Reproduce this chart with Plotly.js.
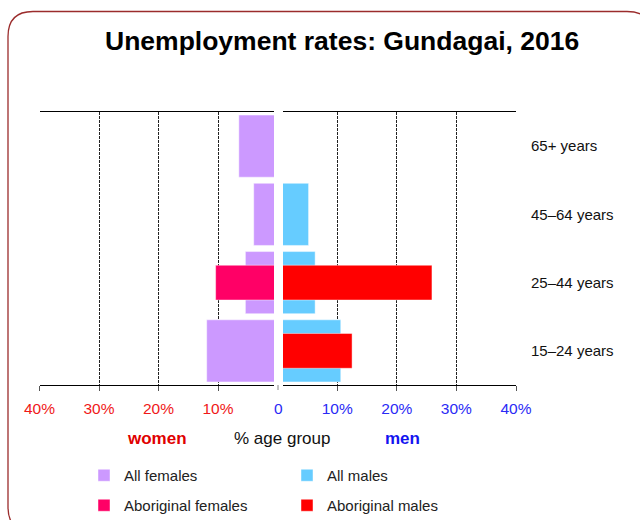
<!DOCTYPE html>
<html>
<head>
<meta charset="utf-8">
<script src="https://cdn.plot.ly/plotly-3.0.1.min.js"></script>
<style>
  html, body { margin: 0; padding: 0; background: #fff; }
  #chart { width: 640px; height: 520px; }
</style>
</head>
<body>
<div id="chart"></div>
<script>
// ---- data ----
const categories = ['15–24 years', '25–44 years', '45–64 years', '65+ years'];
const allFemales = [11.9, 5.4, 4.0, 6.5];
const aboriginalFemales = [null, 10.4, null, null];
const allMales = [10.6, 6.3, 5.2, 0];
const aboriginalMales = [12.5, 25.9, null, null];
const leftTickVals = [40, 30, 20, 10];
const leftTickText = ['40%', '30%', '20%', '10%'];
const rightTickVals = [10, 20, 30, 40];
const rightTickText = ['10%', '20%', '30%', '40%'];
const seriesNames = ['All females', 'Aboriginal females', 'All males', 'Aboriginal males'];

// ---- helpers (pixel -> paper) ----
const W = 640, H = 520;
const px = v => v / W;
const py = v => 1 - v / H;

const FONT = '"Liberation Sans", Arial, Helvetica, sans-serif';
const RED = '#F01818';
const BLUE = '#2A2AF5';
const C_ALLF = '#CC99FF', C_ABF = '#FF0066', C_ALLM = '#66CCFF', C_ABM = '#FF0000';
const EDGE = {color: 'rgba(255,255,255,0.45)', width: 1};

const traces = [
  {type: 'bar', orientation: 'h', name: seriesNames[0], y: categories, x: allFemales,
   xaxis: 'x', yaxis: 'y', width: 0.91, marker: {color: C_ALLF, line: EDGE},
   legend: 'legend', legendgroup: 'a'},
  {type: 'bar', orientation: 'h', name: seriesNames[1], y: categories, x: aboriginalFemales,
   xaxis: 'x', yaxis: 'y', width: 0.51, marker: {color: C_ABF, line: EDGE},
   legend: 'legend', legendgroup: 'b'},
  {type: 'bar', orientation: 'h', name: seriesNames[2], y: categories, x: allMales,
   xaxis: 'x2', yaxis: 'y', width: 0.91, marker: {color: C_ALLM, line: EDGE},
   legend: 'legend2', legendgroup: 'c'},
  {type: 'bar', orientation: 'h', name: seriesNames[3], y: categories, x: aboriginalMales,
   xaxis: 'x2', yaxis: 'y', width: 0.51, marker: {color: C_ABM, line: EDGE},
   legend: 'legend2', legendgroup: 'd'}
];

const commonX = {
  showline: true, linecolor: '#000', linewidth: 1.2, mirror: true,
  ticks: 'outside', ticklen: 5, tickcolor: '#555', tickwidth: 1,
  showgrid: true, gridcolor: '#222', gridwidth: 1, griddash: '3px,1px',
  zeroline: false, tickmode: 'array', fixedrange: true, ticklabelstandoff: 4
};

const legendCommon = {
  orientation: 'v', xanchor: 'left', yanchor: 'top',
  font: {family: FONT, size: 15, color: '#222'},
  bgcolor: 'rgba(0,0,0,0)', traceorder: 'grouped', tracegroupgap: 7.5,
  itemclick: false, itemdoubleclick: false
};

const r = 25; // border corner radius
const bx0 = 8, by0 = 11.5, bx1 = 652, by1 = 532;
const borderPath =
  `M ${px(bx0)},${py(by0 + r)} Q ${px(bx0)},${py(by0)} ${px(bx0 + r)},${py(by0)} ` +
  `L ${px(bx1 - r)},${py(by0)} Q ${px(bx1)},${py(by0)} ${px(bx1)},${py(by0 + r)} ` +
  `L ${px(bx1)},${py(by1 - r)} Q ${px(bx1)},${py(by1)} ${px(bx1 - r)},${py(by1)} ` +
  `L ${px(bx0 + r)},${py(by1)} Q ${px(bx0)},${py(by1)} ${px(bx0)},${py(by1 - r)} Z`;

const layout = {
  width: W, height: H,
  margin: {l: 0, r: 0, t: 0, b: 0, autoexpand: false},
  paper_bgcolor: '#fff', plot_bgcolor: '#fff',
  barmode: 'overlay',
  font: {family: FONT, color: '#111'},
  title: {
    text: '<b>Unemployment rates: Gundagai, 2016</b>',
    font: {family: FONT, size: 26.5, color: '#000'},
    x: px(105), xanchor: 'left', y: py(41), yanchor: 'middle', yref: 'container'
  },
  xaxis: Object.assign({}, commonX, {
    domain: [px(39.5), px(274)], range: [40, 0.59], anchor: 'y',
    tickvals: leftTickVals, ticktext: leftTickText,
    tickfont: {family: FONT, size: 15.5, color: RED}
  }),
  xaxis2: Object.assign({}, commonX, {
    domain: [px(283), px(516)], range: [0.91, 40], anchor: 'y',
    tickvals: rightTickVals, ticktext: rightTickText,
    tickfont: {family: FONT, size: 15.5, color: BLUE}
  }),
  yaxis: {
    domain: [py(385), py(112)], anchor: 'x2', side: 'right',
    type: 'category', categoryorder: 'array', categoryarray: categories,
    range: [-0.5, 3.5], showline: false, showgrid: false, zeroline: false,
    ticks: '', ticklabelstandoff: 14, fixedrange: true,
    tickfont: {family: FONT, size: 15, color: '#111'}
  },
  showlegend: true,
  legend: Object.assign({}, legendCommon, {x: px(84), y: py(459)}),
  legend2: Object.assign({}, legendCommon, {x: px(287), y: py(459)}),
  annotations: [
    {text: '0', xref: 'paper', yref: 'paper', x: px(278), y: py(408),
     xanchor: 'center', yanchor: 'middle', showarrow: false,
     font: {family: FONT, size: 15.5, color: BLUE}},
    {text: '<b>women</b>', xref: 'paper', yref: 'paper', x: px(157), y: py(438),
     xanchor: 'center', yanchor: 'middle', showarrow: false,
     font: {family: FONT, size: 17, color: '#E00000'}},
    {text: '% age group', xref: 'paper', yref: 'paper', x: px(281.5), y: py(438),
     xanchor: 'center', yanchor: 'middle', showarrow: false,
     font: {family: FONT, size: 17, color: '#111'}},
    {text: '<b>men</b>', xref: 'paper', yref: 'paper', x: px(402), y: py(438),
     xanchor: 'center', yanchor: 'middle', showarrow: false,
     font: {family: FONT, size: 17, color: '#1414F0'}}
  ],
  shapes: [
    {type: 'line', xref: 'paper', yref: 'paper', x0: px(278), x1: px(278),
     y0: py(385), y1: py(390), line: {color: '#888', width: 1}},
    {type: 'path', xref: 'paper', yref: 'paper', path: borderPath,
     line: {color: '#9B2C2C', width: 1.3}, fillcolor: 'rgba(0,0,0,0)', layer: 'below'}
  ]
};

Plotly.newPlot('chart', traces, layout, {displayModeBar: false, staticPlot: true});
</script>
</body>
</html>
